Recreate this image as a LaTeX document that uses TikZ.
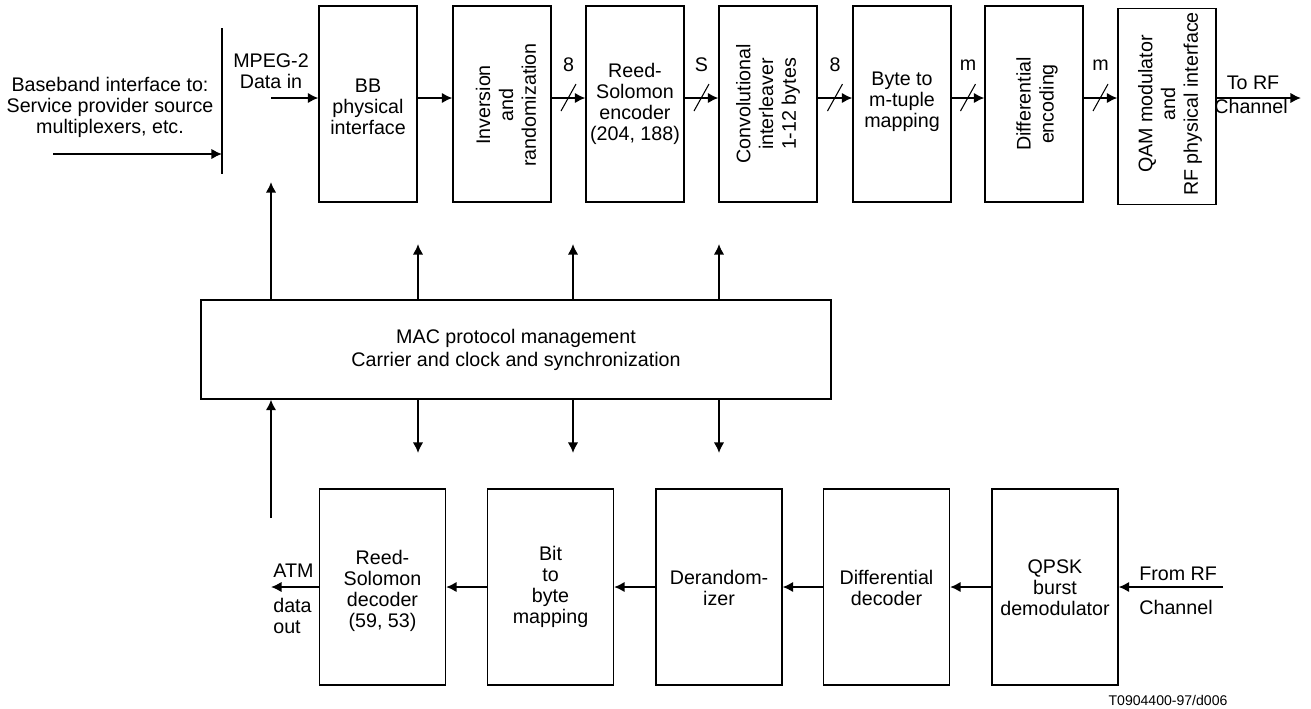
\documentclass[tikz,border=0pt]{standalone}
\usepackage{fontspec}
\setmainfont{Liberation Sans}
\usepackage{tikz}
\usetikzlibrary{arrows.meta}

\begin{document}
\begin{tikzpicture}[x=0.02cm, y=-0.02cm,
        blk/.style={draw, line width=.7pt, minimum width=1.96cm, minimum height=3.92cm, inner sep=0pt},
        lowblk/.style={blk, minimum width=2.52cm},
        txt/.style={align=center, inner sep=0pt, font=\fontsize{11.2}{12}\selectfont},
        rtxt/.style={txt, rotate=90, font=\fontsize{11.2}{13}\selectfont},
        sig/.style={line width=1.1pt, -{Latex[length=6pt, width=6pt]}},
        thin/.style={line width=.6pt}]
        \useasboundingbox (0, 0) rectangle (1311, 708);
        \coordinate (tl) at (0, 98);
        \foreach \n/\x in {bb/368, inv/502, rse/635, cil/768, btm/902, den/1034} {
                \node[blk] (\n) at (\x, 104) {};
            }
        \node[blk] (qam) at (1167, 106.5) {};
        \node[txt] (bbt) at (368, 107) {BB\\physical\\interface};
        \node[rtxt] (invt) at (506, 105) {Inversion\\and\\randomization};
        \node[txt] (rset) at (rse) {Reed-\\Solomon\\encoder\\(204, 188)};
        \node[rtxt] (cilt) at (768, 104) {Convolutional\\interleaver\\1-12 bytes};
        \node[txt] (btmt) at (902, 102) {Byte to\\m-tuple\\mapping};
        \node[rtxt] (dent) at (1037, 104) {Differential\\encoding};
        \node[rtxt] (qamt) at (1170, 104) {QAM modulator\\and\\RF physical interface};
        \draw[sig] (bb.east |- tl) -- (inv.west |- tl);
        \foreach \a/\b/\w in {inv/rse/8, rse/cil/S, cil/btm/8, btm/den/m, den/qam/m} {
                \draw[sig] (\a.east |- tl) -- (\b.west |- tl) coordinate[pos=.5] (\a-s);
                \draw[thin] ([shift={(-7.5, 13)}]\a-s) -- ([shift={(7.5, -14)}]\a-s);
                \node[txt] (\a-w) at ([yshift=.66cm]\a-s) {\w};
            }
        \coordinate (mpin) at (271, 98);
        \draw[sig] (mpin) -- (bb.west |- tl);
        \node[txt] (mpeg) at (271, 71) {MPEG-2\\Data in};
        \coordinate (bart) at (222, 28);
        \coordinate (barb) at (222, 174);
        \draw[line width=1.1pt] (bart) -- (barb);
        \coordinate (bbin) at (53, 154);
        \draw[sig] (bbin) -- (bbin -| bart);
        \node[txt] (bbif) at (110, 107) {Baseband interface to:\\Service provider source\\multiplexers, etc.};
        \coordinate (rfout) at (1301, 98);
        \draw[sig] (qam.east |- tl) -- (rfout);
        \node[txt] (torf) at (1253, 83) {To RF};
        \node[txt] (toch) at (1251, 106) {Channel};

        \node[blk, minimum width=12.6cm, minimum height=1.98cm] (mac) at (516, 349.5) {};
        \node[txt, font=\fontsize{11.2}{13}\selectfont] (mact) at (mac) {MAC protocol management\\Carrier and clock and synchronization};
        \coordinate (bbup) at (271, 182);
        \draw[sig] (mac.north -| bbup) -- (bbup);
        \coordinate (atmup) at (271, 518);
        \draw[sig] (atmup) -- (mac.south -| atmup);
        \foreach \x [count=\i] in {418, 573, 719} {
                \coordinate (cu\i) at (\x, 244);
                \coordinate (cd\i) at (\x, 453);
                \draw[sig] (mac.north -| cu\i) -- (cu\i);
                \draw[sig] (mac.south -| cd\i) -- (cd\i);
            }

        \foreach \n/\x in {rsd/382.5, bit/550.5, der/719, dde/886.5, qps/1055} {
                \node[lowblk] (\n) at (\x, 587) {};
            }
        \node[txt] (rsdt) at (382.5, 591) {Reed-\\Solomon\\decoder\\(59, 53)};
        \node[txt] (bitt) at (bit) {Bit\\to\\byte\\mapping};
        \node[txt] (dert) at (719, 588) {Derandom-\\izer};
        \node[txt] (ddet) at (886.5, 588) {Differential\\decoder};
        \node[txt] (qpst) at (1055, 588) {QPSK\\burst\\demodulator};
        \foreach \a/\b in {qps/dde, dde/der, der/bit, bit/rsd} {
                \draw[sig] (\a.west) -- (\b.east);
            }
        \coordinate (rfin) at (1223, 587);
        \draw[sig] (rfin) -- (qps.east);
        \node[txt, anchor=west] (frrf) at (1139, 574) {From RF};
        \node[txt, anchor=west] (frch) at (1139, 607) {Channel};
        \coordinate (atmout) at (271, 587);
        \draw[sig] (rsd.west) -- (atmout);
        \node[txt, anchor=west] (atm) at (273, 571) {ATM};
        \node[txt, anchor=west, align=left] (atmd) at (273, 616) {data\\out};
        \node[txt, font=\fontsize{8}{9}\selectfont] (ref) at (1168, 700) {T0904400-97/d006};
    \end{tikzpicture}
\end{document}
